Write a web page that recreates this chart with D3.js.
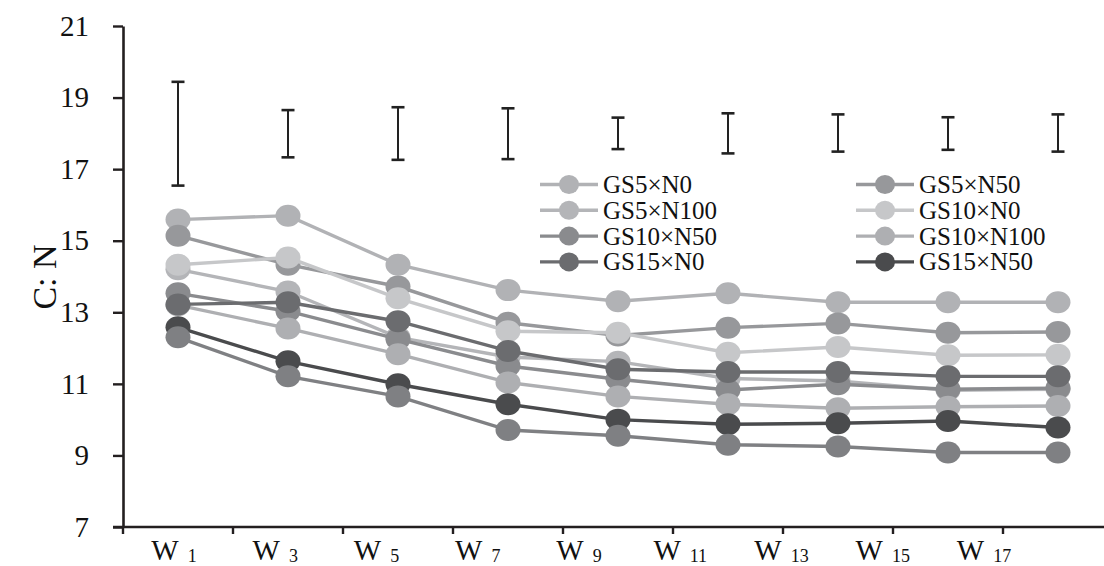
<!DOCTYPE html>
<html>
<head>
<meta charset="utf-8">
<script src="https://cdn.jsdelivr.net/npm/d3@7"></script>
<style>
  body { margin: 0; background: #fff; }
  svg { display: block; font-family: "Liberation Serif", "DejaVu Serif", serif; }
</style>
</head>
<body>
<svg id="chart" width="1104" height="566"></svg>
<script>
// weeks on the x axis
var weeks = ["W1", "W3", "W5", "W7", "W9", "W11", "W13", "W15", "W17"]
var weekNums = ["1", "3", "5", "7", "9", "11", "13", "15", "17"]
var yTicks = [7, 9, 11, 13, 15, 17, 19, 21]

// series, in drawing order (last one is not in the legend)
var seriesNames = ["GS5×N0", "GS5×N50", "GS5×N100", "GS10×N0", "GS10×N50", "GS10×N100", "GS15×N0", "GS15×N50", "GS15×N100"]
var gs5n0   = [15.59, 15.70, 14.33, 13.62, 13.31, 13.53, 13.28, 13.28, 13.28]
var gs5n50  = [15.14, 14.33, 13.72, 12.71, 12.35, 12.57, 12.69, 12.43, 12.45]
var gs5n100 = [14.20, 13.58, 12.30, 11.75, 11.62, 11.15, 11.08, 10.82, 10.85]
var gs10n0  = [14.33, 14.53, 13.39, 12.47, 12.43, 11.87, 12.03, 11.80, 11.81]
var gs10n50 = [13.53, 13.03, 12.25, 11.50, 11.13, 10.83, 10.99, 10.85, 10.88]
var gs10n100 = [13.20, 12.55, 11.83, 11.04, 10.65, 10.43, 10.32, 10.36, 10.38]
var gs15n0  = [13.22, 13.28, 12.75, 11.92, 11.41, 11.33, 11.33, 11.21, 11.21]
var gs15n50 = [12.58, 11.63, 10.99, 10.43, 10.00, 9.87, 9.90, 9.96, 9.78]
var gs15n100 = [12.30, 11.21, 10.65, 9.71, 9.55, 9.30, 9.25, 9.08, 9.08]
var seriesColors = ["#b1b2b5", "#97989b", "#b4b5b8", "#c6c7c9", "#8a8b8e", "#aeafb2", "#6b6c6f", "#4a4b4d", "#7f8083"]

// error bars (low / high) per week
var errLow  = [16.54, 17.33, 17.26, 17.28, 17.56, 17.44, 17.49, 17.54, 17.49]
var errHigh = [19.44, 18.65, 18.73, 18.70, 18.44, 18.56, 18.53, 18.45, 18.53]

var allSeries = [gs5n0, gs5n50, gs5n100, gs10n0, gs10n50, gs10n100, gs15n0, gs15n50, gs15n100]
  .map(function(vals, i){ return {name: seriesNames[i], color: seriesColors[i], values: vals} })

var svg = d3.select("#chart")
var axisColor = "#231f20"

var x = d3.scaleBand().domain(weeks).range([123, 1113])
var xLab = d3.scalePoint().domain(weeks).range([174, 984])
var y = d3.scaleLinear().domain([7, 21]).range([527, 26])

// y axis
var yAxis = svg.append("g").attr("transform", "translate(123,0)")
  .call(d3.axisLeft(y).tickValues(yTicks).tickSize(10).tickPadding(24).tickSizeOuter(0))
yAxis.select(".domain").attr("stroke", axisColor).attr("stroke-width", 2.6)
yAxis.selectAll(".tick line").attr("stroke", axisColor).attr("stroke-width", 2.4)
yAxis.selectAll(".tick text").attr("fill", "#111").style("font-size", "29px")
  .style("font-family", "Liberation Serif")

// x axis
var xAxis = svg.append("g").attr("transform", "translate(0,527)")
  .call(d3.axisBottom(x).tickValues([]).tickSizeOuter(0))
xAxis.select(".domain").remove()
xAxis.append("line").attr("x1", 113).attr("x2", 1104)
  .attr("stroke", axisColor).attr("stroke-width", 2.6)
xAxis.selectAll(".xtick").data(weeks).enter().append("line")
  .attr("class", "xtick")
  .attr("x1", d => x(d)).attr("x2", d => x(d))
  .attr("y1", 0).attr("y2", 7)
  .attr("stroke", axisColor).attr("stroke-width", 2.4)

var xl = svg.append("g").selectAll("text").data(weeks).enter().append("text")
  .attr("x", d => xLab(d)).attr("y", 560)
  .attr("text-anchor", "middle").attr("fill", "#111")
xl.append("tspan").style("font-size", "29px").text("W")
xl.append("tspan").attr("dx", 9).attr("dy", 2).style("font-size", "18px")
  .text((d, i) => weekNums[i])

// y title
svg.append("text")
  .attr("transform", "translate(56,277) rotate(-90)")
  .attr("text-anchor", "middle").attr("fill", "#111")
  .style("font-size", "34px").text("C: N")

// error bars
var cx = d => x(d) + x.bandwidth() / 2
var eb = svg.append("g").selectAll("g").data(weeks).enter().append("g")
eb.append("line").attr("x1", cx).attr("x2", cx)
  .attr("y1", (d, i) => y(errLow[i])).attr("y2", (d, i) => y(errHigh[i]))
  .attr("stroke", "#222").attr("stroke-width", 2)
eb.append("line").attr("x1", d => cx(d) - 6.5).attr("x2", d => cx(d) + 6.5)
  .attr("y1", (d, i) => y(errHigh[i])).attr("y2", (d, i) => y(errHigh[i]))
  .attr("stroke", "#222").attr("stroke-width", 2.6)
eb.append("line").attr("x1", d => cx(d) - 6.5).attr("x2", d => cx(d) + 6.5)
  .attr("y1", (d, i) => y(errLow[i])).attr("y2", (d, i) => y(errLow[i]))
  .attr("stroke", "#222").attr("stroke-width", 2.6)

// series lines + markers
var line = d3.line().x((d, i) => cx(weeks[i])).y(d => y(d))
var sg = svg.append("g").selectAll("g").data(allSeries).enter().append("g")
sg.append("path").attr("d", d => line(d.values))
  .attr("fill", "none").attr("stroke", d => d.color).attr("stroke-width", 3.4)
sg.each(function(s){
  d3.select(this).selectAll("ellipse").data(s.values).enter().append("ellipse")
    .attr("cx", (d, i) => cx(weeks[i])).attr("cy", d => y(d))
    .attr("rx", 12.5).attr("ry", 11)
    .attr("fill", s.color)
})

// legend (two columns, eight entries)
var legendItems = allSeries.slice(0, 8)
var lg = svg.append("g").selectAll("g").data(legendItems).enter().append("g")
  .attr("transform", (d, i) => "translate(" + (i % 2 === 0 ? 540 : 856) + "," + (184.5 + Math.floor(i / 2) * 25.8) + ")")
lg.append("line").attr("x1", 0).attr("x2", 58).attr("y1", 0).attr("y2", 0)
  .attr("stroke", d => d.color).attr("stroke-width", 3.4)
lg.append("ellipse").attr("cx", 29).attr("cy", 0).attr("rx", 10).attr("ry", 9.5)
  .attr("fill", d => d.color)
lg.append("text").attr("x", 63).attr("y", 0).attr("dy", "0.34em")
  .attr("fill", "#111").style("font-size", "25px").text(d => d.name)
</script>
</body>
</html>
